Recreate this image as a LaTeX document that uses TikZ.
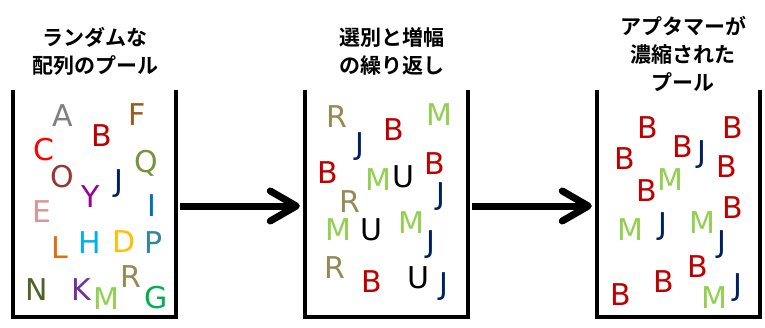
\documentclass[tikz,border=0pt]{standalone}
\usepackage{fontspec}
\newfontfamily\cjkfont{Noto Sans CJK JP Bold}
\newfontfamily\letterfont{DejaVu Sans}
\usetikzlibrary{arrows.meta}
\definecolor{cGray}{HTML}{808080}
\definecolor{cBrown}{HTML}{9C5B1A}
\definecolor{cDRed}{HTML}{C00000}
\definecolor{cRed}{HTML}{FF0000}
\definecolor{cOlive}{HTML}{77933C}
\definecolor{cMaroon}{HTML}{953735}
\definecolor{cNavy}{HTML}{002060}
\definecolor{cPurple}{HTML}{990099}
\definecolor{cPink}{HTML}{D99694}
\definecolor{cBlue}{HTML}{0070C0}
\definecolor{cOrange}{HTML}{E46C0A}
\definecolor{cLBlue}{HTML}{00B0F0}
\definecolor{cGold}{HTML}{FFC000}
\definecolor{cTeal}{HTML}{31859C}
\definecolor{cKhaki}{HTML}{948A54}
\definecolor{cDOlive}{HTML}{4F6228}
\definecolor{cViolet}{HTML}{7030A0}
\definecolor{cLGreen}{HTML}{92D050}
\definecolor{cGreen}{HTML}{00B050}
\begin{document}
\begin{tikzpicture}[x=1pt,y=-1pt,
  title/.style={font=\cjkfont\fontsize{21}{28}\selectfont, align=center, inner sep=0pt},
  pool/.style={minimum width=163pt, minimum height=227pt, inner sep=0pt, draw=none},
  cup/.style={line width=4.5pt, line join=miter},
  bigarrow/.style={line width=7pt, -{Straight Barb[length=26pt, width=30pt, line cap=round, line join=round]}},
  let/.style={font=\letterfont\fontsize{30}{30}\selectfont, inner sep=0pt}]
\useasboundingbox (0,0) rectangle (765,327);
% containers
\node[pool] (c1) at (94.5,203.5) {};
\node[pool] (c2) at (386.5,203.5) {};
\node[pool] (c3) at (678.5,203.5) {};
\draw[cup] (c1.north west) |- (c1.south east) -- (c1.north east);
\draw[cup] (c2.north west) |- (c2.south east) -- (c2.north east);
\draw[cup] (c3.north west) |- (c3.south east) -- (c3.north east);
% arrows
\draw[bigarrow, shorten <=4pt, shorten >=5pt] ([yshift=-2.5pt]c1.east) -- ([yshift=-2.5pt]c2.west);
\draw[bigarrow, shorten <=4pt, shorten >=5pt] ([yshift=-2.5pt]c2.east) -- ([yshift=-2.5pt]c3.west);
% titles
\node[title] (t1) at (95,51) {ランダムな\\配列のプール};
\node[title] (t2) at (392,51) {選別と増幅\\の繰り返し};
\node[title] (t3) at (683,54) {アプタマーが\\濃縮された\\プール};
% pool 1
\node[let, text=cGray]   (a1) at (63,116) {A};
\node[let, text=cBrown]  (a2) at (137,115) {F};
\node[let, text=cDRed]   (a3) at (102,136) {B};
\node[let, text=cRed]    (a4) at (44,150) {C};
\node[let, text=cOlive]  (a5) at (146,163) {Q};
\node[let, text=cMaroon] (a6) at (62,177) {O};
\node[let, text=cNavy]   (a7) at (119,184) {J};
\node[let, text=cPurple] (a8) at (91,197) {Y};
\node[let, text=cPink]   (a9) at (42,212) {E};
\node[let, text=cBlue]   (a10) at (152,206) {I};
\node[let, text=cOrange] (a11) at (60,248) {L};
\node[let, text=cLBlue]  (a12) at (90,243) {H};
\node[let, text=cGold]   (a13) at (124,242) {D};
\node[let, text=cTeal]   (a14) at (154,243) {P};
\node[let, text=cKhaki]  (a15) at (131,277) {R};
\node[let, text=cDOlive] (a16) at (37,290) {N};
\node[let, text=cViolet] (a17) at (81,290) {K};
\node[let, text=cLGreen] (a18) at (106,299) {M};
\node[let, text=cGreen]  (a19) at (156,298) {G};
% pool 2
\node[let, text=cKhaki]  (b1) at (337,117) {R};
\node[let, text=cLGreen] (b2) at (439,115) {M};
\node[let, text=cDRed]   (b3) at (394,130) {B};
\node[let, text=cNavy]   (b4) at (360,147) {J};
\node[let, text=cDRed]   (b5) at (328,173) {B};
\node[let, text=cLGreen] (b6) at (378,180) {M};
\node[let, text=black]   (b7) at (403,177) {U};
\node[let, text=cDRed]   (b8) at (435,164) {B};
\node[let, text=cNavy]   (b9) at (441,197) {J};
\node[let, text=cKhaki]  (b10) at (350,202) {R};
\node[let, text=cLGreen] (b11) at (338,230) {M};
\node[let, text=black]   (b12) at (371,230) {U};
\node[let, text=cLGreen] (b13) at (411,223) {M};
\node[let, text=cNavy]   (b14) at (431,245) {J};
\node[let, text=cKhaki]  (b15) at (335,268) {R};
\node[let, text=cDRed]   (b16) at (372,282) {B};
\node[let, text=black]   (b17) at (418,278) {U};
\node[let, text=cNavy]   (b18) at (444,287) {J};
% pool 3
\node[let, text=cDRed]   (d1) at (648,128) {B};
\node[let, text=cDRed]   (d2) at (733,128) {B};
\node[let, text=cDRed]   (d3) at (683,147) {B};
\node[let, text=cNavy]   (d4) at (702,155) {J};
\node[let, text=cDRed]   (d5) at (625,159) {B};
\node[let, text=cDRed]   (d6) at (727,167) {B};
\node[let, text=cLGreen] (d7) at (670,180) {M};
\node[let, text=cDRed]   (d8) at (647,191) {B};
\node[let, text=cDRed]   (d9) at (733,208) {B};
\node[let, text=cLGreen] (d10) at (630,230) {M};
\node[let, text=cNavy]   (d11) at (663,227) {J};
\node[let, text=cLGreen] (d12) at (702,223) {M};
\node[let, text=cNavy]   (d13) at (722,245) {J};
\node[let, text=cDRed]   (d14) at (698,267) {B};
\node[let, text=cDRed]   (d15) at (664,282) {B};
\node[let, text=cDRed]   (d16) at (621,295) {B};
\node[let, text=cLGreen] (d17) at (714,298) {M};
\node[let, text=cNavy]   (d18) at (738,288) {J};
\end{tikzpicture}
\end{document}
